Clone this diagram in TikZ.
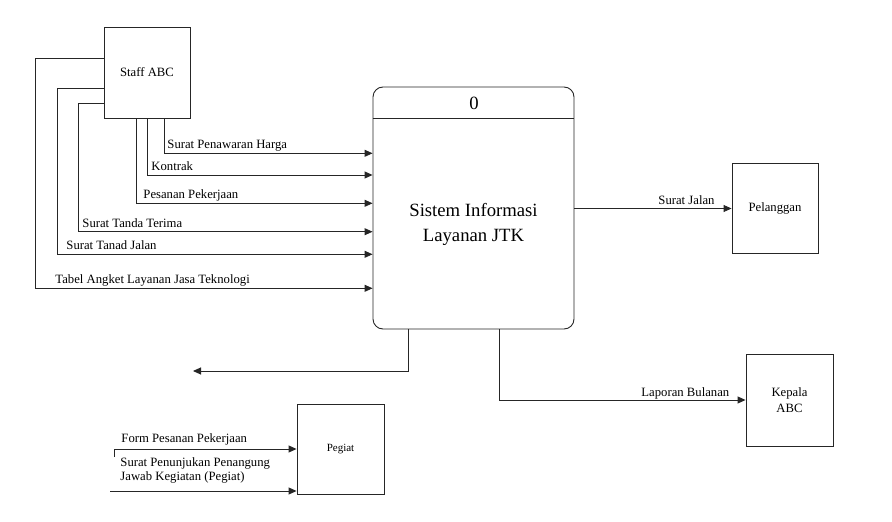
\documentclass[tikz,border=0pt]{standalone}
\usepackage{fontspec}
\setmainfont{Liberation Serif}
\usetikzlibrary{arrows.meta}
\begin{document}
\begin{tikzpicture}[x=1pt,y=-1pt, line width=0.9pt, draw=black!85,
  box/.style={draw, rectangle, inner sep=0pt, align=center, font=\fontsize{12.7}{16}\selectfont},
  lbl/.style={font=\fontsize{12.7}{14}\selectfont, inner sep=0pt, anchor=base west},
  flow/.style={-{Triangle[length=8pt,width=7pt]}}]
\useasboundingbox (0,0) rectangle (892,522);
% nodes
\node[box, minimum width=86pt, minimum height=91pt] (staff) at (147,72.5) {Staff ABC};
\node[draw, rounded corners=10pt, minimum width=201pt, minimum height=242pt, inner sep=0pt] (proc) at (473.5,208) {};
\node[inner sep=0pt, font=\fontsize{18.7}{22}\selectfont] (num) at (474,103) {0};
\node[inner sep=0pt, align=center, font=\fontsize{18.7}{25}\selectfont] (ptext) at (473.5,224.5) {Sistem Informasi\\Layanan JTK};
\node[box, minimum width=86pt, minimum height=90pt] (pel) at (775,208) {Pelanggan};
\node[box, minimum width=87pt, minimum height=92pt] (kep) at (789.5,400) {Kepala\\ABC};
\node[box, minimum width=87pt, minimum height=90pt, font=\fontsize{11}{13}\selectfont] (peg) at (340.5,449) {Pegiat};
% level coordinates
\coordinate (y118) at (0,118);
\coordinate (y58) at (0,58);
\coordinate (y88) at (0,88);
\coordinate (y103) at (0,103);
\coordinate (y153) at (0,153.3);
\coordinate (y175) at (0,175);
\coordinate (y203) at (0,203.3);
\coordinate (y232) at (0,231.7);
\coordinate (y254) at (0,254.3);
\coordinate (y288) at (0,288.3);
\coordinate (y209) at (0,208.5);
\coordinate (y400) at (0,400);
\coordinate (y449) at (0,449);
\coordinate (y491) at (0,491);
\coordinate (x136) at (136,0);
\coordinate (x147) at (147.5,0);
\coordinate (x164) at (164,0);
\coordinate (x408) at (408,0);
\coordinate (x499) at (499,0);
\coordinate (tipL) at (193,371);
\coordinate (formStart) at (114,457);
\coordinate (surStart) at (110,491);
% header line
\draw (proc.west |- y118) -- (proc.east |- y118);
% flows from Staff ABC
\draw[flow] (staff.west |- y58) -- (35,58) -- (35,288.3) -- (proc.west |- y288);
\draw[flow] (staff.west |- y88) -- (57,88) -- (57,254.3) -- (proc.west |- y254);
\draw[flow] (staff.west |- y103) -- (78,103) -- (78,231.7) -- (proc.west |- y232);
\draw[flow] (staff.south -| x136) -- (136,203.3) -- (proc.west |- y203);
\draw[flow] (staff.south -| x147) -- (147.5,175) -- (proc.west |- y175);
\draw[flow] (staff.south -| x164) -- (164,153.3) -- (proc.west |- y153);
\node[lbl] (l1) at (167,148.8) {Surat Penawaran Harga};
\node[lbl] (l2) at (151,170.5) {Kontrak};
\node[lbl] (l3) at (143,198.8) {Pesanan Pekerjaan};
\node[lbl] (l4) at (82,227.2) {Surat Tanda Terima};
\node[lbl] (l5) at (66,249.8) {Surat Tanad Jalan};
\node[lbl] (l6) at (55,283.8) {Tabel Angket Layanan Jasa Teknologi};
% outputs
\draw[flow] (proc.east |- y209) -- (pel.west |- y209);
\node[lbl] (l7) at (658,204.5) {Surat Jalan};
\draw[flow] (proc.south -| x499) -- (499,400) -- (kep.west |- y400);
\node[lbl] (l8) at (641,396.5) {Laporan Bulanan};
\draw[flow] (proc.south -| x408) -- (408,371) -- (tipL);
% Pegiat inputs
\draw[flow] (formStart) -- (114,449) -- (peg.west |- y449);
\node[lbl] (l9) at (121,442.3) {Form Pesanan Pekerjaan};
\draw[flow] (surStart) -- (peg.west |- y491);
\node[lbl, align=left, anchor=north west, font=\fontsize{12.7}{14.2}\selectfont] (l10) at (120,457.5) {Surat Penunjukan Penangung\\Jawab Kegiatan (Pegiat)};
\end{tikzpicture}
\end{document}
